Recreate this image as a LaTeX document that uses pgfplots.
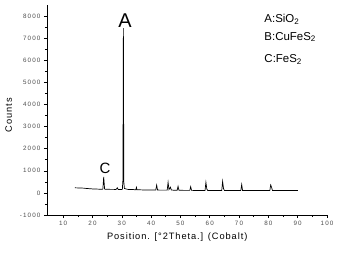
\documentclass[border=0pt]{standalone}
\usepackage{fontspec}
\setmainfont{Liberation Sans}
\usepackage{pgfplots}
\pgfplotsset{compat=1.18}
\newfontfamily\tickfont[LetterSpace=18]{Liberation Sans}
\newfontfamily\labfont[LetterSpace=10]{Liberation Sans}
\begin{document}
\begin{tikzpicture}
\useasboundingbox (-47bp,-40bp) rectangle (290bp,215bp);
\begin{axis}[
 scale only axis, width=280bp, height=210bp,
 xmin=4.5, xmax=100, ymin=-1000, ymax=8500,
 axis lines=left, axis line style={-, line width=0.5pt},
 xtick={10,20,...,100}, ytick={-1000,0,...,8000},
 minor x tick num=1, minor y tick num=1,
 tick align=outside, major tick length=3bp, minor tick length=2bp,
 tick style={black, line width=0.5pt},
 scaled y ticks=false,
 yticklabel style={/pgf/number format/fixed, /pgf/number format/1000 sep={}},
 ticklabel style={font=\tickfont\fontsize{6.3}{7}\selectfont, text=black!70},
 /pgf/number format/assume math mode=true,
 xlabel={Position. [°2Theta.] (Cobalt)}, ylabel={Counts},
 label style={font=\labfont\fontsize{9.3}{11}\selectfont},
 xlabel style={at={(ticklabel cs:0.465)}},
 ylabel style={at={(ticklabel cs:0.475)}},
 ylabel shift=1bp,
 clip=false,
]
\addplot[black, line width=0.7pt] coordinates {
(14.0,230) (15,225) (16,220) (17,215) (18,200) (19,190) (20,180) (21,175) (22,170) (23,165)
(23.55,170) (23.84,720) (24.15,170) (25,165) (26,160) (27,160) (28,155) (28.5,230) (28.8,150)
(29.5,150) (30.2,160) (30.4,600) (30.55,7450) (30.7,500) (30.9,200) (32,160) (33,150) (34,150)
(34.8,140) (35.0,250) (35.2,140) (36,140) (37,135) (38,135) (39,130) (40,130) (41,130)
(41.6,130) (41.9,350) (42.2,130) (43,125) (44,125) (45,125) (45.5,125) (45.8,480) (46.1,150)
(46.6,260) (46.9,130) (48,120) (48.9,120) (49.2,300) (49.5,120) (50,120) (51,115) (52,115)
(53.2,115) (53.5,280) (53.8,115) (55,110) (56,110) (57,110) (58.4,110) (58.7,480) (59.0,180)
(59.3,110) (60,110) (62,110) (64.1,110) (64.4,520) (64.7,200) (65.0,110) (66,105) (68,105)
(70.6,105) (70.9,380) (71.2,105) (73,105) (75,105) (78,105) (80.5,110) (80.8,360) (81.1,250)
(81.4,105) (83,105) (86,105) (90.1,105)
};
\node[anchor=base, font=\fontsize{20}{22}\selectfont, inner sep=0pt] at (axis cs:31.1,7500) {A};
\node[anchor=base, font=\fontsize{15}{17}\selectfont, inner sep=0pt] at (axis cs:24.3,860) {C};
\node[anchor=base west, inner sep=0pt, font=\fontsize{11.5}{13}\selectfont] at (rel axis cs:0.776,0.916) {A:SiO\textsubscript{2}};
\node[anchor=base west, inner sep=0pt, font=\fontsize{11.5}{13}\selectfont] at (rel axis cs:0.776,0.833) {B:CuFeS\textsubscript{2}};
\node[anchor=base west, inner sep=0pt, font=\fontsize{11.5}{13}\selectfont] at (rel axis cs:0.776,0.725) {C:FeS\textsubscript{2}};
\end{axis}
\end{tikzpicture}
\end{document}
